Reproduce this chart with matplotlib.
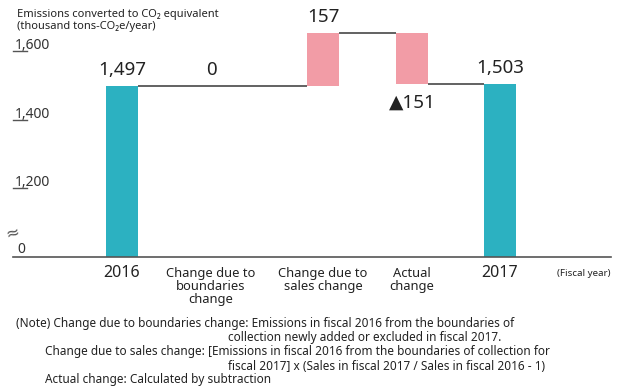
import matplotlib
matplotlib.use("Agg")
import matplotlib.pyplot as plt

plt.rcParams['font.family'] = ['Noto Sans', 'DejaVu Sans']

teal = "#2cb1c1"
pink = "#f29ca6"
line_grey = "#555555"
text_col = "#222222"

# waterfall data (thousand tons-CO2e/year)
categories = ["2016", "Change due to\nboundaries\nchange", "Change due to\nsales change",
              "Actual\nchange", "2017"]
start_value = 1497
changes = [0, 157, -151]
end_value = 1503
value_labels = ["1,497", "0", "157", "▲151", "1,503"]
tick_values = [1200, 1400, 1600]
tick_labels = ["1,200", "1,400", "1,600"]

# layout (x in pixels across the figure)
xpos = [122, 211, 323, 412, 500]
bar_w = 32
y_bottom, y_top = 1000, 1749

fig = plt.figure(figsize=(6.24, 3.90), dpi=100)
ax = fig.add_axes([0, 0.341, 1, 0.659])
ax.set_xlim(0, 624)
ax.set_ylim(y_bottom, y_top)
ax.axis("off")

# running totals
levels = [start_value]
for c in changes:
    levels.append(levels[-1] + c)
levels.append(end_value)

# totals
ax.bar(xpos[0], start_value, bar_w, color=teal, zorder=2)
ax.bar(xpos[-1], end_value, bar_w, color=teal, zorder=2)
# changes
drawn = [True]
for i, c in enumerate(changes):
    prev = levels[i]
    if c != 0:
        ax.bar(xpos[i + 1], abs(c), bar_w, bottom=min(prev, prev + c), color=pink, zorder=2)
    drawn.append(c != 0)
drawn.append(True)

# connector lines
for i in range(len(xpos) - 1):
    x0 = xpos[i] + (bar_w / 2 if drawn[i] else 0)
    x1 = xpos[i + 1] - (bar_w / 2 if drawn[i + 1] else 0)
    ax.plot([x0, x1], [levels[i], levels[i]], color=line_grey, lw=1.3, zorder=1,
            solid_capstyle="butt")

# value labels
for i, lab in enumerate(value_labels):
    if i in (0, len(xpos) - 1):
        y, off, va = levels[i], 7, "bottom"
    else:
        c = changes[i - 1]
        prev = levels[i - 1]
        if c < 0:
            y, off, va = prev + c, -9, "top"
        else:
            y, off, va = prev + c, 7, "bottom"
    ax.annotate(lab, (xpos[i], y), xytext=(0, off), textcoords="offset pixels",
                ha="center", va=va, fontsize=13.5, color=text_col)

# category labels
for i, lab in enumerate(categories):
    is_year = i in (0, len(xpos) - 1)
    ax.annotate(lab, (xpos[i], y_bottom), xytext=(0, -8 if is_year else -10),
                textcoords="offset pixels", ha="center", va="top",
                fontsize=11.5 if is_year else 9.3, linespacing=1.0,
                color=text_col, annotation_clip=False)
ax.annotate("(Fiscal year)", (584, y_bottom), xytext=(0, -12), textcoords="offset pixels",
            ha="center", va="top", fontsize=7, color=text_col, annotation_clip=False)

# baseline and axis ticks
ax.plot([13, 611], [y_bottom, y_bottom], color=line_grey, lw=1.2, zorder=3,
        clip_on=False)
for v, lab in zip(tick_values, tick_labels):
    ax.plot([13, 27], [v, v], color=line_grey, lw=1.0)
    ax.annotate(lab, (15, v), xytext=(0, 2), textcoords="offset pixels",
                ha="left", va="baseline", fontsize=10, color="#333333")
ax.annotate("0", (17, y_bottom), xytext=(0, 4), textcoords="offset pixels",
            ha="left", va="baseline", fontsize=10, color="#333333")
ax.annotate("≈", (13, y_bottom), xytext=(0, 14), textcoords="offset pixels",
            ha="center", va="bottom", fontsize=12, color="#555555", rotation=15)

# unit header
fig.text(17 / 624, 1 - 14 / 390, "Emissions converted to CO₂ equivalent",
         ha="left", va="center", fontsize=8, color=text_col)
fig.text(17 / 624, 1 - 27 / 390, "(thousand tons-CO₂e/year)",
         ha="left", va="center", fontsize=8, color=text_col)

# notes
notes = [
    (16, 323, "(Note) Change due to boundaries change: Emissions in fiscal 2016 from the boundaries of"),
    (228, 337, "collection newly added or excluded in fiscal 2017."),
    (45, 351, "Change due to sales change: [Emissions in fiscal 2016 from the boundaries of collection for"),
    (228, 366, "fiscal 2017] x (Sales in fiscal 2017 / Sales in fiscal 2016 - 1)"),
    (45, 380, "Actual change: Calculated by subtraction"),
]
for x, y, t in notes:
    fig.text(x / 624, 1 - y / 390, t, ha="left", va="center", fontsize=8.5, color=text_col)

fig.savefig("out.png", dpi=100)
